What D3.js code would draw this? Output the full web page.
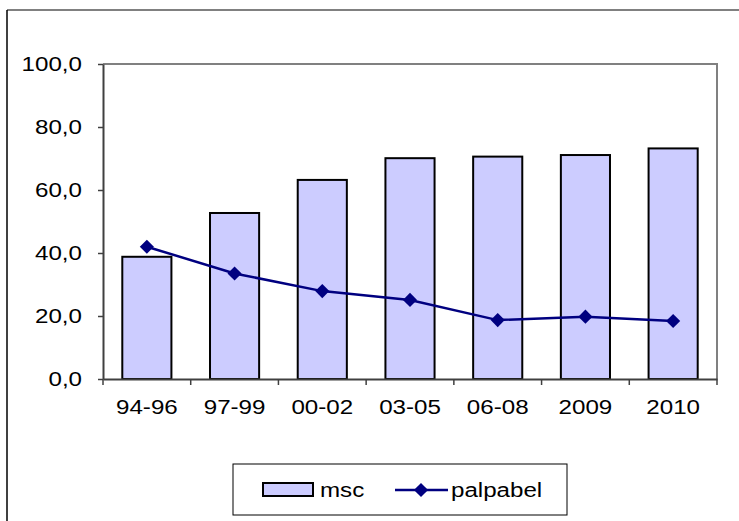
<!DOCTYPE html>
<html>
<head>
<meta charset="utf-8">
<script src="https://cdn.jsdelivr.net/npm/d3@7"></script>
<style>
  body { margin: 0; background: #fff; }
  text { font-family: "Liberation Sans", Arial, sans-serif; fill: #000; }
</style>
</head>
<body>
<svg id="chart"></svg>
<script>
// chart data
const categories = ['94-96', '97-99', '00-02', '03-05', '06-08', '2009', '2010'];
const mscValues = [38.8, 52.7, 63.2, 70.1, 70.6, 71.1, 73.2];
const palpabelValues = [42.0, 33.5, 27.9, 25.1, 18.7, 19.8, 18.4];
const yTicks = [0, 20, 40, 60, 80, 100];

const width = 739;
const height = 521;
const plot = { left: 103, top: 64, right: 717, bottom: 379 };
const fontSize = 21;
const stretch = 1.15; // text in the picture is a bit wider than normal

const svg = d3.select('#chart')
  .attr('width', width)
  .attr('height', height);

// outer chart frame (clipped on right/bottom)
svg.append('line').attr('x1', 7).attr('x2', width).attr('y1', 10).attr('y2', 10)
  .attr('stroke', '#808080').attr('stroke-width', 2);
svg.append('line').attr('x1', 7).attr('x2', 7).attr('y1', 10).attr('y2', height)
  .attr('stroke', '#000').attr('stroke-width', 1.5);

const xscale = d3.scaleBand().domain(categories).range([plot.left, plot.right]);
const yscale = d3.scaleLinear().domain([0, 100]).range([plot.bottom, plot.top]);

// plot area frame top/right
svg.append('path')
  .attr('d', `M${plot.left},${plot.top}H${plot.right}V${plot.bottom}`)
  .attr('fill', 'none').attr('stroke', '#808080').attr('stroke-width', 2);

// bars
const barW = xscale.bandwidth() * 0.56;
svg.append('g').selectAll('rect').data(mscValues).join('rect')
  .attr('x', (d, i) => xscale(categories[i]) + (xscale.bandwidth() - barW) / 2)
  .attr('y', (d) => yscale(d))
  .attr('width', barW)
  .attr('height', (d) => plot.bottom - yscale(d))
  .attr('fill', '#ccccff')
  .attr('stroke', '#000')
  .attr('stroke-width', 2);

// y axis
const yaxis = d3.axisLeft(yscale).tickValues(yTicks).tickSize(5).tickSizeOuter(0)
  .tickFormat((d) => d3.format('.1f')(d).replace('.', ','));
const g_yaxis = svg.append('g').attr('transform', `translate(${plot.left},0)`).call(yaxis);
g_yaxis.select('.domain').attr('stroke', '#404040').attr('stroke-width', 2);
g_yaxis.selectAll('.tick line').attr('stroke', '#404040').attr('stroke-width', 1.5).attr('x1', -5).attr('x2', 0);
g_yaxis.selectAll('.tick text')
  .attr('x', -21 / stretch)
  .attr('font-size', fontSize)
  .attr('transform', `scale(${stretch},1)`);

// x axis
const xaxis = d3.axisBottom(xscale).tickSize(0).tickSizeOuter(0);
const g_xaxis = svg.append('g').attr('transform', `translate(0,${plot.bottom})`).call(xaxis);
g_xaxis.select('.domain').attr('stroke', '#404040').attr('stroke-width', 2);
g_xaxis.selectAll('.tick text')
  .attr('y', 20)
  .attr('font-size', fontSize)
  .attr('transform', `scale(${stretch},1)`);
// boundary ticks between categories
const bounds = categories.map((c) => xscale(c)).concat([plot.right]);
g_xaxis.selectAll('.bound').data(bounds).join('line')
  .attr('x1', (d) => d).attr('x2', (d) => d)
  .attr('y1', 0).attr('y2', 6)
  .attr('stroke', '#404040').attr('stroke-width', 1.5);

// line series
const cx = (i) => xscale(categories[i]) + xscale.bandwidth() / 2;
const line = d3.line().x((d, i) => cx(i)).y((d) => yscale(d));
svg.append('path').datum(palpabelValues)
  .attr('d', line)
  .attr('fill', 'none')
  .attr('stroke', '#000080')
  .attr('stroke-width', 2.5);

const diamond = d3.symbol().type(d3.symbolSquare).size(100);
svg.append('g').selectAll('path').data(palpabelValues).join('path')
  .attr('d', diamond)
  .attr('transform', (d, i) => `translate(${cx(i)},${yscale(d)}) rotate(45)`)
  .attr('fill', '#000080');

// legend
const legend = svg.append('g');
legend.append('rect')
  .attr('x', 233).attr('y', 464).attr('width', 334).attr('height', 51)
  .attr('fill', '#fff').attr('stroke', '#000').attr('stroke-width', 1);
legend.append('rect')
  .attr('x', 263).attr('y', 483).attr('width', 50).attr('height', 13)
  .attr('fill', '#ccccff').attr('stroke', '#000').attr('stroke-width', 2);
legend.append('text')
  .attr('x', 320 / stretch).attr('y', 497)
  .attr('font-size', fontSize)
  .attr('transform', `scale(${stretch},1)`)
  .text('msc');
legend.append('line')
  .attr('x1', 395).attr('x2', 448).attr('y1', 490).attr('y2', 490)
  .attr('stroke', '#000080').attr('stroke-width', 2.5);
legend.append('path').attr('d', diamond)
  .attr('transform', 'translate(421,490) rotate(45)')
  .attr('fill', '#000080');
legend.append('text')
  .attr('x', 451 / stretch).attr('y', 497)
  .attr('font-size', fontSize)
  .attr('transform', `scale(${stretch},1)`)
  .text('palpabel');
</script>
</body>
</html>
